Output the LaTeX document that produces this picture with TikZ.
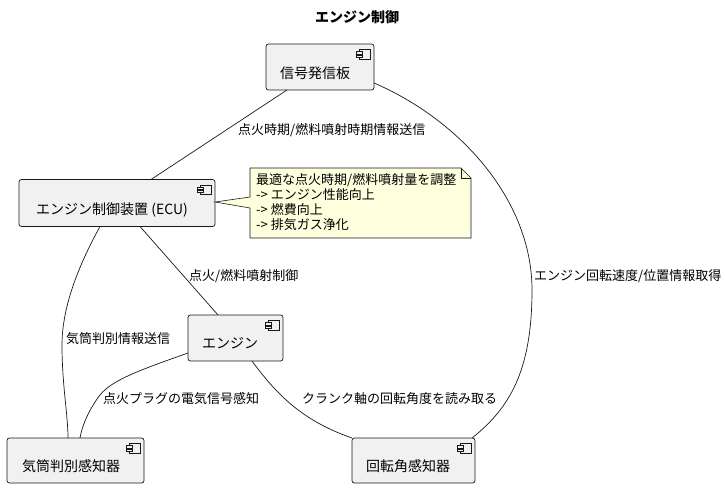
\documentclass[tikz,border=0pt]{standalone}
\usepackage{fontspec}
\setmainfont{Noto Sans CJK JP}
\usetikzlibrary{calc}
\definecolor{boxfill}{HTML}{F1F1F1}
\definecolor{boxline}{HTML}{181818}
\definecolor{notefill}{HTML}{FEFFDD}
\tikzset{
  comp/.style={draw=boxline, fill=boxfill, rounded corners=2.5pt, line width=0.7pt, inner sep=0pt},
  ctext/.style={font=\fontsize{14}{16}\selectfont, inner sep=0pt, text=black},
  lbl/.style={font=\fontsize{13}{15}\selectfont, inner sep=0pt, anchor=west, text=black},
  conn/.style={draw=boxline, line width=0.7pt},
  iconpart/.style={draw=boxline, fill=boxfill, line width=0.6pt}
}
\newcommand{\compicon}[1]{%
  \draw[iconpart] ($(#1.north east)+(-15,6)$) rectangle ($(#1.north east)+(-4,15.5)$);
  \draw[iconpart] ($(#1.north east)+(-18,8)$) rectangle ($(#1.north east)+(-12.5,10.3)$);
  \draw[iconpart] ($(#1.north east)+(-18,11.3)$) rectangle ($(#1.north east)+(-12.5,13.6)$);
}
\begin{document}
\begin{tikzpicture}[x=1pt,y=-1pt]
\useasboundingbox (0,0) rectangle (725,489);
% title
\node[font=\fontsize{14}{16}\selectfont\bfseries, inner sep=0pt] (title) at (357,17) {エンジン制御};

% components
\node[comp, minimum width=108pt, minimum height=46pt] (sig) at (320,67) {};
\node[ctext] (sigt) at (315,73) {信号発信板};
\compicon{sig}

\node[comp, minimum width=196pt, minimum height=47pt] (ecu) at (117,203) {};
\node[ctext] (ecut) at (112,210) {エンジン制御装置 (ECU)};
\compicon{ecu}

\node[comp, minimum width=95pt, minimum height=46pt] (eng) at (235.5,338) {};
\node[ctext] (engt) at (230,343) {エンジン};
\compicon{eng}

\node[comp, minimum width=137pt, minimum height=45pt] (cyl) at (75.5,460.5) {};
\node[ctext] (cylt) at (71,466) {気筒判別感知器};
\compicon{cyl}

\node[comp, minimum width=123pt, minimum height=45pt] (rot) at (413.5,460.5) {};
\node[ctext] (rott) at (408,466) {回転角感知器};
\compicon{rot}

% note
\coordinate (notetip) at (215,202);
\draw[draw=boxline, fill=notefill, line width=0.6pt]
  (250,168) -- (461,168) -- (471,178) -- (471,238) -- (250,238) -- (250,208)
  -- (notetip) -- (250,197) -- cycle;
\draw[draw=boxline, line width=0.6pt] (461,168) -- (461,178) -- (471,178);
\node[font=\fontsize{13}{15}\selectfont, align=left, anchor=north west, inner sep=0pt] (note) at (256,173) {最適な点火時期/燃料噴射量を調整\\-> エンジン性能向上\\-> 燃費向上\\-> 排気ガス浄化};

% connectors
\coordinate (sigA) at (287,90);
\coordinate (ecuA) at (151,179.5);
\draw[conn] (sigA) -- (ecuA);
\node[lbl] (l1) at (238,130) {点火時期/燃料噴射時期情報送信};

\coordinate (sigB) at (374,83);
\coordinate (rotB) at (472,438);
\draw[conn] (sigB) .. controls (460,120) and (532,200) .. (532,290)
  .. controls (532,370) and (510,408) .. (rotB);
\node[lbl] (l2) at (534,276) {エンジン回転速度/位置情報取得};

\coordinate (ecuC) at (140,226.5);
\coordinate (engC) at (218,315);
\draw[conn] (ecuC) -- (engC);
\node[lbl] (l3) at (189,276) {点火/燃料噴射制御};

\coordinate (ecuD) at (100,226.5);
\coordinate (cylD) at (68,438);
\draw[conn] (ecuD) .. controls (76,270) and (62,310) .. (62,345)
  .. controls (62,385) and (68,415) .. (cylD);
\node[lbl] (l4) at (66,339) {気筒判別情報送信};

\coordinate (engE) at (188,353);
\coordinate (cylE) at (80,438);
\draw[conn] (engE) .. controls (140,370) and (112,380) .. (100,395)
  .. controls (90,408) and (82,425) .. (cylE);
\node[lbl] (l5) at (103,399) {点火プラグの電気信号感知};

\coordinate (engF) at (252,361);
\coordinate (rotF) at (352,438);
\draw[conn] (engF) .. controls (275,392) and (300,420) .. (rotF);
\node[lbl] (l6) at (302,399) {クランク軸の回転角度を読み取る};
\end{tikzpicture}
\end{document}
